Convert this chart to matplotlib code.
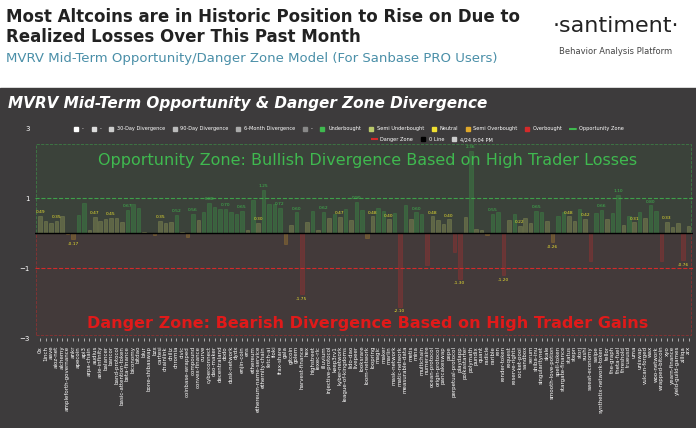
import numpy as np
import matplotlib.pyplot as plt
from matplotlib.patches import Rectangle

coins = ['0x', '1inch', 'aave', 'aioz-net', 'alchemy', 'ampleforth-governance', 'ankr', 'apecoin', 'api3',
         'arpa-chain', 'audius', 'axie-infinity', 'balancer', 'bancor', 'band-protocol', 'basic-attention-token',
         'beta-finance', 'biconomy', 'bitdao', 'blur', 'bone-shibaswap', 'bzx', 'cartesi', 'chainlink',
         'chiliz', 'chromia', 'civic', 'coinbase-wrapped', 'compound', 'convex-finance', 'curve', 'cyberconnect',
         'dao-maker', 'decentraland', 'dodo', 'dusk-network', 'dydx', 'ens', 'enjin-coin', 'ethereum-name-service',
         'ethernity-chain', 'ethereum', 'fetch-ai', 'floki', 'frax-share', 'gala', 'gitcoin', 'golem',
         'harvest-finance', 'highstreet', 'hex', 'iexec-rlc', 'illuvium', 'injective-protocol', 'kyber-network',
         'keep3rv1', 'lido-dao', 'league-of-kingdoms', 'livepeer', 'loom-network', 'looksrare', 'loopring',
         'magic', 'maker', 'mask-network', 'marlin', 'matic-network', 'measurable-data', 'metis', 'mina',
         'multichain', 'numeraire', 'ocean-protocol', 'origin-protocol', 'pancakeswap', 'pepe', 'perpetual-protocol',
         'playdapp', 'polymath', 'pundix', 'polkastarter', 'quant', 'radicle', 'rarible', 'ren', 'render-token',
         'request', 'reserve-rights', 'rocket-pool', 'sandbox', 'serum', 'shiba-inu', 'singularitynet',
         'skale', 'smooth-love-potion', 'spell-token', 'stargate-finance', 'status', 'storj', 'sushi',
         'swipe', 'synthetix-network-token', 'the-graph', 'theta-fuel', 'threshold', 'uma', 'uniswap',
         'woo-network', 'wrapped-bitcoin', 'xyo', 'yearn-finance', 'yield-guild-games', 'zilliqa', 'zrx',
         'stepn', 'sweat-economy', 'tellor', 'trueusd', 'vulcan-forged', 'wax']
mvrv = [0.49, 0.36, 0.30, 0.35, 0.49, -0.02, -0.17, 0.51, 0.88, 0.10, 0.47, 0.36, 0.41, 0.45, 0.45, 0.32,
        0.67, 0.84, 0.71, 0.05, 0.02, -0.04, 0.35, 0.28, 0.32, 0.52, 0.05, -0.11, 0.56, 0.37, 0.62, 0.88,
        0.75, 0.70, 0.70, 0.60, 0.55, 0.65, 0.08, 0.95, 0.30, 1.25, 0.85, 0.85, 0.72, -0.30, 0.25, 0.60,
        -1.75, 0.33, 0.65, 0.10, 0.62, 0.45, 0.56, 0.47, 0.70, 0.38, 0.90, 0.66, -0.14, 0.48, 0.72, 0.65,
        0.40, 0.57, -2.10, 0.82, 0.40, 0.60, 0.55, -0.90, 0.48, 0.38, 0.26, 0.40, -0.53, -1.30, 0.47, 2.36,
        0.12, 0.10, -0.05, 0.55, 0.60, -1.20, 0.38, 0.54, 0.22, 0.45, 0.30, 0.65, 0.60, 0.34, -0.26, 0.50,
        0.62, 0.48, 0.35, 0.70, 0.42, -0.80, 0.58, 0.66, 0.40, 0.57, 1.10, 0.23, 0.50, 0.31, 0.60, 0.45,
        0.80, 0.65, -0.80, 0.33, 0.18, 0.30, -0.76, 0.20]
coins = sorted(coins)

BG = '#3d3b3c'
def col(v):
    if v >= 0.5: return '#3fb94f'
    if v >= 0: return '#c9c86a'
    if v > -0.5: return '#e0a82a'
    return '#d42a2a'

fig = plt.figure(figsize=(6.96, 4.28), dpi=100)
fig.patch.set_facecolor('white')
fig.text(0.008, 0.948, 'Most Altcoins are in Historic Position to Rise on Due to', fontsize=12, weight='bold', color='#222')
fig.text(0.008, 0.903, 'Realized Losses Over This Past Month', fontsize=12, weight='bold', color='#222')
fig.text(0.008, 0.855, 'MVRV Mid-Term Opportunity/Danger Zone Model (For Sanbase PRO Users)', fontsize=9.5, color='#4a8fa8')
fig.text(0.885, 0.925, '·santiment·', fontsize=16, color='#222', ha='center')
fig.text(0.885, 0.875, 'Behavior Analysis Platform', fontsize=6, color='#444', ha='center')
fig.patches.append(Rectangle((0, 0), 1, 0.795, transform=fig.transFigure, color=BG, zorder=-1))
fig.text(0.012, 0.747, 'MVRV Mid-Term Opportunity & Danger Zone Divergence', fontsize=11, weight='bold',
         style='italic', color='white')

ax = fig.add_axes([0.05, 0.21, 0.945, 0.49])
ax.set_facecolor(BG)
x = np.arange(len(coins))
ax.bar(x, mvrv, width=0.65, color=[col(v) for v in mvrv], alpha=0.5,
       edgecolor=[col(v) for v in mvrv], linewidth=0.6)
last = -10
for i, v in enumerate(mvrv):
    if (abs(v) > 0.15 and i - last >= 3) or abs(v) > 1:
        last = i
        ax.text(i, v + (0.05 if v > 0 else -0.08), f'{v:.2f}', fontsize=3.2, ha='center',
                va='bottom' if v > 0 else 'top', color='#3fb94f' if v >= 0.5 else '#e8e030')
ax.axhline(0, color='black', lw=1)
ax.axhline(1, color='#3fb94f', ls='--', lw=0.8, alpha=0.8)
ax.axhline(-1, color='#d42a2a', ls='--', lw=0.8)
ax.add_patch(Rectangle((-0.8, 0), len(coins) + 0.3, 2.55, fill=True, fc='#3a4a3a', alpha=0.5,
                       ec='#3fb94f', ls='--', lw=0.6))
ax.add_patch(Rectangle((-0.8, -2.9), len(coins) + 0.3, 2.9, fill=True, fc='#4a3a3a', alpha=0.5,
                       ec='#d42a2a', ls='--', lw=0.6))
ax.text(len(coins) / 2, 1.95, 'Opportunity Zone: Bullish Divergence Based on High Trader Losses',
        fontsize=11.5, color='#3fb94f', ha='center')
ax.text(len(coins) / 2, -2.72, 'Danger Zone: Bearish Divergence Based on High Trader Gains',
        fontsize=11.5, color='#e01a1a', ha='center', weight='bold')
ax.set_xlim(-1, len(coins) - 0.3)
ax.set_ylim(-3, 3)
ax.set_yticks([3, 1, -1, -3])
ax.tick_params(axis='y', colors='white', labelsize=5, length=0)
ax.set_xticks(x)
ax.set_xticklabels(coins, rotation=90, fontsize=4, color='white')
ax.tick_params(axis='x', colors='white', length=2, width=0.4)
for s in ax.spines.values():
    s.set_visible(False)

items = [('#ffffff', '-'), ('#dddddd', '-'), ('#cccccc', '30-Day Divergence'), ('#bbbbbb', '90-Day Divergence'),
         ('#aaaaaa', '6-Month Divergence'), ('#888888', '-'), ('#3fb94f', 'Underbought'),
         ('#b9c86a', 'Semi Underbought'), ('#f0e030', 'Neutral'), ('#e0a82a', 'Semi Overbought'),
         ('#d42a2a', 'Overbought')]
h = [plt.Line2D([], [], marker='s', ls='', color=c, markersize=3.5) for c, _ in items]
h += [plt.Line2D([], [], color='#3fb94f', ls='--'), plt.Line2D([], [], color='#d42a2a', ls='--'),
      plt.Line2D([], [], marker='s', ls='', color='black', markersize=3.5),
      plt.Line2D([], [], marker='s', ls='', color='#cccccc', markersize=3.5)]
labs = [l for _, l in items] + ['Opportunity Zone', 'Danger Zone', '0 Line', '4/24 9:04 PM']
leg = fig.legend(h[:12], labs[:12], loc='upper center', bbox_to_anchor=(0.5, 0.715), ncol=12, fontsize=3.6,
                 frameon=False, labelcolor='white', columnspacing=1.2, handletextpad=0.4, handlelength=1.5)
fig.legend(h[12:], labs[12:], loc='upper center', bbox_to_anchor=(0.62, 0.69), ncol=3, fontsize=3.6,
           frameon=False, labelcolor='white', columnspacing=1.2, handletextpad=0.4, handlelength=1.5)
fig.savefig('out.png', dpi=100, facecolor=fig.get_facecolor())
